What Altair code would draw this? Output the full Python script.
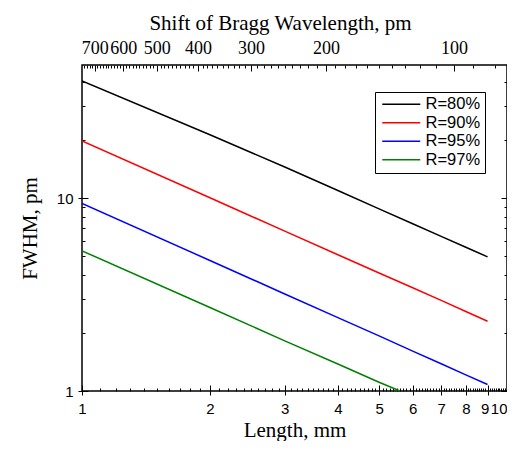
import altair as alt
import pandas as pd

# ---- data ----
LENGTH = [1, 2, 3, 4, 5, 6, 7, 8, 9]
R80 = [40.5, 21.3, 14.5, 10.95, 8.8, 7.36, 6.33, 5.56, 4.96]
R90 = [19.8, 10.04, 6.74, 5.09, 4.09, 3.43, 2.95, 2.585, 2.30]
R95 = [9.39, 4.75, 3.185, 2.40, 1.93, 1.61, 1.385, 1.213, 1.08]
LENGTH_97 = [1, 2, 3, 4, 5, 5.6]
R97 = [5.33, 2.71, 1.82, 1.38, 1.11, 1.0]
SERIES = ["R=80%", "R=90%", "R=95%", "R=97%"]
COLORS = ["#000000", "#ff0000", "#0000ff", "#008000"]

X_MAJOR = [1, 2, 3, 4, 5, 6, 7, 8, 9, 10]
X_MINOR = [i / 10 for i in range(11, 100) if i % 10]
Y_MAJOR = [1, 10]
Y_MINOR = [2, 3, 4, 5, 6, 7, 8, 9, 20, 30, 40]
SHIFT_K = 750  # shift (pm) = SHIFT_K / length (mm)
TOP_MAJOR = [700, 600, 500, 400, 300, 200, 100]
TOP_MINOR = [s for s in range(80, 750, 10) if s % 100]

rows = []
for name, xs, ys in zip(SERIES, [LENGTH, LENGTH, LENGTH, LENGTH_97], [R80, R90, R95, R97]):
    for x, y in zip(xs, ys):
        rows.append({"Length": x, "FWHM": y, "Series": name})
df = pd.DataFrame(rows)
dummy = pd.DataFrame({"Length": [1.0], "FWHM": [1.0]})

top_major_pos = [SHIFT_K / s for s in TOP_MAJOR]
top_minor_pos = [SHIFT_K / s for s in TOP_MINOR]

xscale = alt.Scale(type="log", domain=[1, 10], nice=False)
yscale = alt.Scale(type="log", domain=[1, 49], nice=False)

SANS = "Liberation Sans"
SERIF = "Liberation Serif"


def tick_axis(orient, values, size):
    # inward ticks (negative size given as an expression)
    return alt.Axis(orient=orient, values=values, labels=False, domain=False, grid=False,
                    title=None, tickSize=alt.ExprRef(expr=str(-size)), tickColor="black",
                    tickWidth=1)


def guide(xaxis, yaxis):
    return alt.Chart(dummy).mark_point(opacity=0, size=1).encode(
        x=alt.X("Length:Q", scale=xscale, axis=xaxis),
        y=alt.Y("FWHM:Q", scale=yscale, axis=yaxis),
    )


bottom_labels = alt.Axis(orient="bottom", values=X_MAJOR, format="d", domain=False, grid=False,
                         tickSize=4, tickColor="black", tickWidth=1, labelPadding=6,
                         labelFont=SANS, labelFontSize=15, labelColor="black",
                         labelOverlap=False, labelFlush=False,
                         labelAlign={"condition": {"test": "datum.value >= 10", "value": "right"},
                                     "value": "center"},
                         labelOffset={"condition": {"test": "datum.value == 9", "value": -3},
                                      "value": 0},
                         title="Length, mm", titleFont=SERIF, titleFontSize=21,
                         titleFontWeight="normal", titleColor="black", titlePadding=3)
left_labels = alt.Axis(orient="left", values=Y_MAJOR, format="d", domain=False, grid=False,
                       tickSize=4, tickColor="black", tickWidth=1, labelPadding=5,
                       labelFont=SANS, labelFontSize=15, labelColor="black",
                       labelOverlap=False, labelFlush=False,
                       title="FWHM, pm", titleFont=SERIF, titleFontSize=21,
                       titleFontWeight="normal", titleColor="black", titlePadding=16)
top_labels = alt.Axis(orient="top", values=top_major_pos, ticks=False, domain=False, grid=False,
                      labelExpr=f"format({SHIFT_K} / datum.value, '.0f')",
                      labelPadding=8, labelFont=SERIF, labelFontSize=18, labelColor="black",
                      labelOverlap=False, labelFlush=False,
                      title="Shift of Bragg Wavelength, pm", titleFont=SERIF, titleFontSize=21,
                      titleFontWeight="normal", titleColor="black", titlePadding=6, titleX=198)

lines = alt.Chart(df).mark_line(strokeWidth=1.5, clip=True).encode(
    x=alt.X("Length:Q", scale=xscale, axis=bottom_labels),
    y=alt.Y("FWHM:Q", scale=yscale, axis=left_labels),
    color=alt.Color("Series:N", scale=alt.Scale(domain=SERIES, range=COLORS),
                    legend=alt.Legend(title=None, orient="none", legendX=293, legendY=27,
                                      fillColor="white", strokeColor="black", padding=4,
                                      labelFont=SANS, labelFontSize=16.5, labelColor="black",
                                      symbolType="M-1,0L6.6,0", symbolSize=100,
                                      symbolStrokeWidth=1.5, labelOffset=30, rowPadding=1.5)),
    order=alt.Order("Length:Q"),
)

layers = [
    lines,
    guide(tick_axis("bottom", X_MAJOR, 6), tick_axis("left", Y_MAJOR, 6)),
    guide(tick_axis("bottom", X_MINOR, 3), tick_axis("left", Y_MINOR, 3)),
    guide(top_labels, tick_axis("right", Y_MAJOR, 6)),
    guide(tick_axis("top", top_major_pos, 6), tick_axis("right", Y_MINOR, 3)),
    guide(tick_axis("top", top_minor_pos, 3), None),
]

chart = alt.layer(*layers).resolve_axis(x="independent", y="independent").properties(
    width=425, height=326,
    padding={"left": 74, "top": 57, "right": 0, "bottom": 50},
    autosize=alt.AutoSizeParams(type="none"),
).configure_view(stroke="black", strokeWidth=1.5)

chart.save("out.html", embed_options={"renderer": "svg", "actions": False})
